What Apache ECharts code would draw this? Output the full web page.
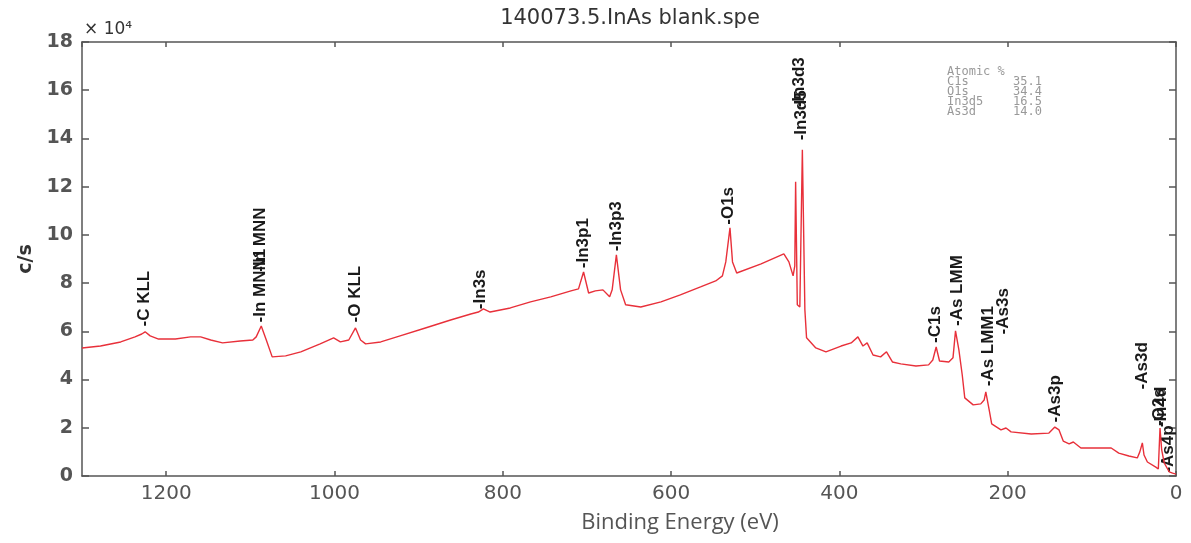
<!DOCTYPE html>
<html><head><meta charset="utf-8">
<script src="https://cdn.jsdelivr.net/npm/echarts@6/dist/echarts.min.js"></script>
<style>html,body{margin:0;padding:0;background:#fff}#c{width:1191px;height:543px}</style>
</head><body><div id="c"></div>
<script>
const titleText = '140073.5.InAs blank.spe';
const xAxisName = 'Binding Energy (eV)';
const yAxisName = 'c/s';
const yScaleText = '× 10⁴';

// Survey spectrum: binding energy (eV) and counts (×10^4 c/s)
const energy = [1300,1278,1254,1237,1229,1225,1219,1209,1189,1171,1159,1147,1133,1112,1097,1093,1087,1081,1074,1058,1040,1017,1001,993,983,975,969,963,945,922,892,862,838,829,823,815,791,767,743,719,710,704,698,690,681,673,670,665,660,654,636,612,589,565,547,539,535,530,527,522,493,466,460,455,453,452,450,447,444,441,439,428,416,398,386,378,372,367,360,351,344,337,327,309,294,289,285,281,270,265,262,258,254,251,241,232,228,226,222,219,208,202,196,172,151,144,139,134,127,122,113,89,77,68,56,46,43,40,38,34,24,21,19,17,14,8,4,0];
const counts = [5.31,5.39,5.56,5.77,5.89,5.98,5.81,5.68,5.68,5.77,5.77,5.64,5.52,5.60,5.64,5.77,6.22,5.64,4.94,4.98,5.15,5.48,5.73,5.56,5.64,6.14,5.64,5.48,5.56,5.81,6.14,6.47,6.72,6.80,6.93,6.80,6.97,7.22,7.43,7.68,7.76,8.46,7.59,7.68,7.72,7.43,7.72,9.17,7.72,7.10,7.01,7.22,7.51,7.84,8.09,8.30,8.88,10.29,8.88,8.42,8.80,9.21,8.88,8.30,8.71,12.20,7.10,7.01,13.53,6.89,5.73,5.31,5.15,5.39,5.52,5.77,5.39,5.52,5.02,4.94,5.15,4.73,4.65,4.56,4.61,4.81,5.35,4.77,4.73,4.90,6.02,5.23,4.19,3.24,2.95,2.99,3.15,3.49,2.74,2.16,1.91,1.99,1.83,1.74,1.78,2.03,1.91,1.45,1.33,1.41,1.16,1.16,1.16,0.95,0.83,0.75,1.00,1.37,0.87,0.58,0.37,0.29,1.99,1.08,0.54,0.17,0.12,0.08];

// Peak labels: name, binding energy, label base height (×10^4 c/s)
const peakNames = ['C KLL','In MNN1','In MNN','O KLL','In3s','In3p1','In3p3','O1s','In3d5','In3d3','C1s','As LMM','As LMM1','As3s','As3p','As3d','In4d','O2s','As4p'];
const peakBE    = [1225,1087,1087,975,826,704,665,531,445,447,285,259,222,205,143,40,17,19,8];
const peakLabelY= [6.18,6.35,8.45,6.35,6.9,8.6,9.3,10.4,13.9,15.27,5.5,6.2,3.7,5.85,2.2,3.57,2.0,2.05,0.12];

// Atomic % table
const tableHeader = 'Atomic %';
const tableNames  = ['C1s','O1s','In3d5','As3d'];
const tableValues = ['35.1','34.4','16.5','14.0'];

const xMin = 0, xMax = 1300, xInterval = 200;
const yMin = 0, yMax = 18, yInterval = 2;

const chart = echarts.init(document.getElementById('c'), null, {renderer:'canvas'});
const axisLineStyle = {color:'#555', width:1.5};
const graphics = [
  {type:'text', x:630, y:19, style:{text:titleText, align:'center', verticalAlign:'middle', font:'21px "DejaVu Sans"', fill:'#333'}},
  {type:'text', x:680, y:523, style:{text:xAxisName, align:'center', verticalAlign:'middle', font:'22px "Open Sans"', fill:'#555'}},
  {type:'text', x:84, y:30, style:{text:yScaleText, align:'left', verticalAlign:'middle', font:'17px "DejaVu Sans"', fill:'#333'}},
  {type:'text', x:947, y:72, style:{text:tableHeader, align:'left', verticalAlign:'middle', font:'12px "DejaVu Sans Mono"', fill:'#999'}}
];
tableNames.forEach((n,i)=>{
  graphics.push({type:'text', x:947, y:82+i*10, style:{text:n, align:'left', verticalAlign:'middle', font:'12px "DejaVu Sans Mono"', fill:'#999'}});
  graphics.push({type:'text', x:1013, y:82+i*10, style:{text:tableValues[i], align:'left', verticalAlign:'middle', font:'12px "DejaVu Sans Mono"', fill:'#999'}});
});

chart.setOption({
  backgroundColor:'#fff',
  animation:false,
  grid:{left:82, right:15, top:42, bottom:67, containLabel:false},
  xAxis:[{
    type:'value', inverse:true, min:xMin, max:xMax, interval:xInterval,
    axisLine:{show:true, onZero:false, lineStyle:axisLineStyle},
    axisTick:{show:true, inside:true, length:5, lineStyle:axisLineStyle},
    axisLabel:{show:true, showMaxLabel:false, margin:8, fontSize:20, fontFamily:'DejaVu Sans', color:'#555', formatter:v=>String(v)},
    splitLine:{show:false}
  },{
    type:'value', position:'top', inverse:true, min:xMin, max:xMax, interval:xInterval,
    axisLine:{show:true, onZero:false, lineStyle:axisLineStyle},
    axisTick:{show:true, inside:true, length:5, lineStyle:axisLineStyle},
    axisLabel:{show:false}, splitLine:{show:false}
  }],
  yAxis:[{
    type:'value', min:yMin, max:yMax, interval:yInterval,
    name:yAxisName, nameLocation:'middle', nameGap:46, nameRotate:90,
    nameTextStyle:{fontSize:19, fontWeight:'bold', fontFamily:'DejaVu Sans', color:'#333'},
    axisLine:{show:true, onZero:false, lineStyle:axisLineStyle},
    axisTick:{show:true, inside:true, length:7, lineStyle:axisLineStyle},
    axisLabel:{show:true, margin:9, fontSize:19, fontWeight:'bold', fontFamily:'DejaVu Sans', color:'#555'},
    splitLine:{show:false}
  },{
    type:'value', position:'right', min:yMin, max:yMax, interval:yInterval,
    axisLine:{show:true, onZero:false, lineStyle:axisLineStyle},
    axisTick:{show:true, inside:true, length:7, lineStyle:axisLineStyle},
    axisLabel:{show:false}, splitLine:{show:false}
  }],
  series:[{
    type:'line', xAxisIndex:0, yAxisIndex:0,
    data: energy.map((e,i)=>[e, counts[i]]),
    showSymbol:false, symbol:'none',
    lineStyle:{color:'#e8303a', width:1.4},
    silent:true
  },{
    type:'scatter', xAxisIndex:0, yAxisIndex:0,
    symbolSize:1, itemStyle:{color:'rgba(0,0,0,0)'}, silent:true,
    labelLayout:{hideOverlap:false},
    data: peakNames.map((n,i)=>({value:[peakBE[i], peakLabelY[i]], name:n})),
    label:{show:true, opacity:1, formatter:p=>'-'+p.name, rotate:90, position:[0,0], align:'left', verticalAlign:'middle',
      fontSize:17, fontWeight:'bold', fontFamily:'Liberation Sans', color:'#1a1a1a'}
  }],
  graphic: graphics
});
</script></body></html>
